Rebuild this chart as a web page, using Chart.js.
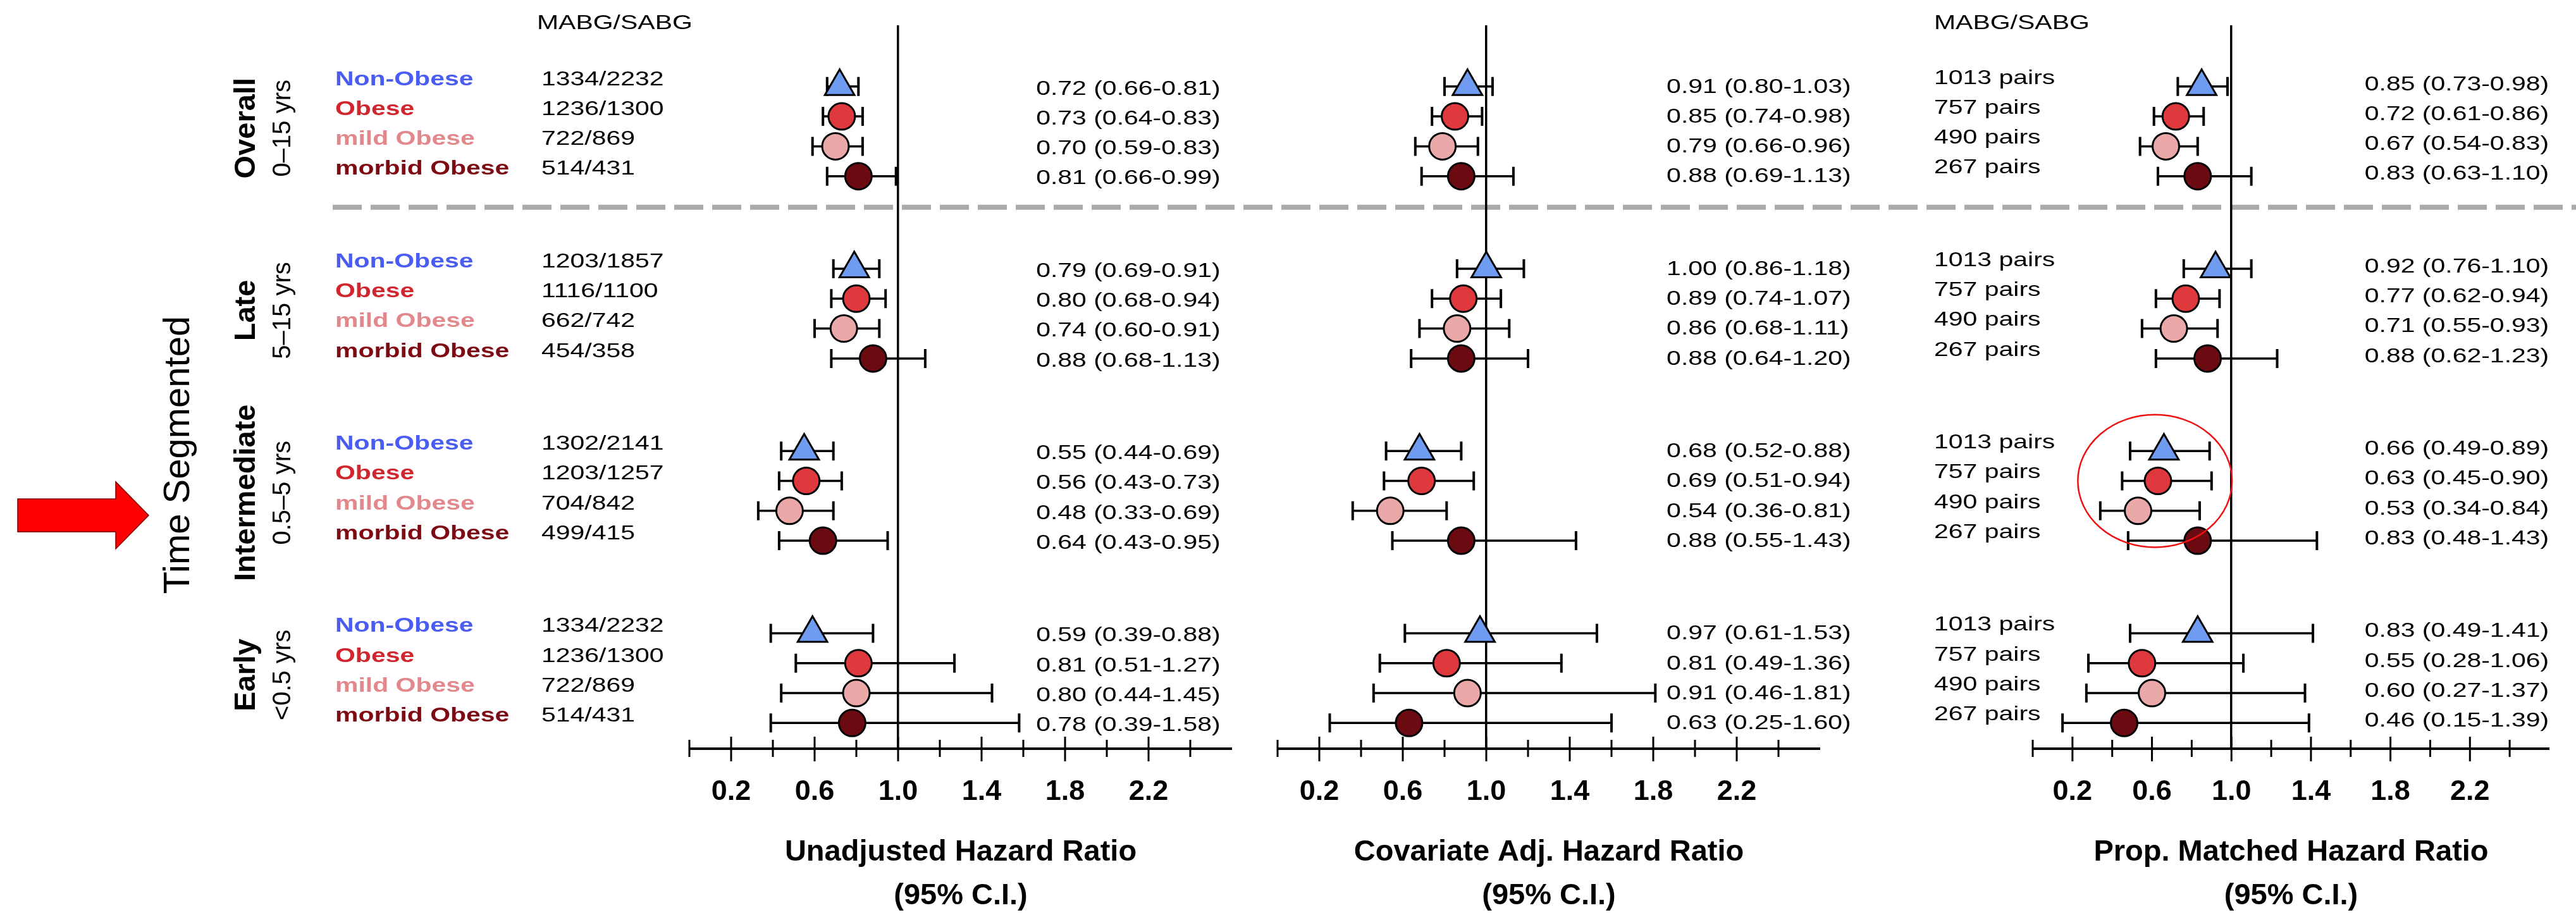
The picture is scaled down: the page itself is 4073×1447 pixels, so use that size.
<!DOCTYPE html>
<html><head><meta charset="utf-8">
<script src="https://cdn.jsdelivr.net/npm/chart.js@4.4.1/dist/chart.umd.min.js"></script>
<style>
html,body{margin:0;padding:0;background:#fff;overflow:hidden;width:4073px;height:1447px;}
#wrap{position:relative;width:4073px;height:1447px;overflow:hidden;background:#fff;}
canvas{position:absolute;left:0;top:0;}
</style></head><body><div id="wrap">
<canvas id="c1" width="4073" height="1452"></canvas>
<canvas id="c2" width="4073" height="1452"></canvas>
<canvas id="c3" width="4073" height="1452"></canvas>
</div>
<script>
// ---------------- DATA ----------------
const GROUPS = ['Overall', 'Late', 'Intermediate', 'Early'];
const GROUP_SPANS = ['0–15 yrs', '5–15 yrs', '0.5–5 yrs', '<0.5 yrs'];
const CATEGORIES = ['Non-Obese', 'Obese', 'mild Obese', 'morbid Obese'];
const COUNT_HEADER = 'MABG/SABG';
const COUNTS = [
  ['1334/2232', '1236/1300', '722/869', '514/431'],
  ['1203/1857', '1116/1100', '662/742', '454/358'],
  ['1302/2141', '1203/1257', '704/842', '499/415'],
  ['1334/2232', '1236/1300', '722/869', '514/431']
];
const PAIRS = ['1013 pairs', '757 pairs', '490 pairs', '267 pairs'];
const SIDE_TITLE = 'Time Segmented';
const TICK_LABELS = ['0.2', '0.6', '1.0', '1.4', '1.8', '2.2'];

const UNADJ_HR = [[0.72, 0.73, 0.70, 0.81], [0.79, 0.80, 0.74, 0.88], [0.55, 0.56, 0.48, 0.64], [0.59, 0.81, 0.80, 0.78]];
const UNADJ_LO = [[0.66, 0.64, 0.59, 0.66], [0.69, 0.68, 0.60, 0.68], [0.44, 0.43, 0.33, 0.43], [0.39, 0.51, 0.44, 0.39]];
const UNADJ_HI = [[0.81, 0.83, 0.83, 0.99], [0.91, 0.94, 0.91, 1.13], [0.69, 0.73, 0.69, 0.95], [0.88, 1.27, 1.45, 1.58]];

const COV_HR = [[0.91, 0.85, 0.79, 0.88], [1.00, 0.89, 0.86, 0.88], [0.68, 0.69, 0.54, 0.88], [0.97, 0.81, 0.91, 0.63]];
const COV_LO = [[0.80, 0.74, 0.66, 0.69], [0.86, 0.74, 0.68, 0.64], [0.52, 0.51, 0.36, 0.55], [0.61, 0.49, 0.46, 0.25]];
const COV_HI = [[1.03, 0.98, 0.96, 1.13], [1.18, 1.07, 1.11, 1.20], [0.88, 0.94, 0.81, 1.43], [1.53, 1.36, 1.81, 1.60]];

const PM_HR = [[0.85, 0.72, 0.67, 0.83], [0.92, 0.77, 0.71, 0.88], [0.66, 0.63, 0.53, 0.83], [0.83, 0.55, 0.60, 0.46]];
const PM_LO = [[0.73, 0.61, 0.54, 0.63], [0.76, 0.62, 0.55, 0.62], [0.49, 0.45, 0.34, 0.48], [0.49, 0.28, 0.27, 0.15]];
const PM_HI = [[0.98, 0.86, 0.83, 1.10], [1.10, 0.94, 0.93, 1.23], [0.89, 0.90, 0.84, 1.43], [1.41, 1.06, 1.37, 1.39]];

const TITLES = ['Unadjusted Hazard Ratio', 'Covariate Adj. Hazard Ratio', 'Prop. Matched Hazard Ratio'];
const CI_LABEL = '(95% C.I.)';

// ---------------- STYLE ----------------
const W = 4073;
const FONT = '"Liberation Sans", Arial, Helvetica, sans-serif';
const SX = 1.28;
const TXT_SIZE = 32;
const FILL = ['#6f9bf0', '#e0393d', '#eaa8a9', '#6b0a10'];
const TEXTC = ['#4a5cf2', '#d2262e', '#e2878b', '#7e0a14'];
const GROUP_STEP = 6.1;
const rowVal = (gi, ci) => gi * GROUP_STEP + ci;

function txt(ctx, s, x, y, o) {
  o = o || {};
  ctx.save();
  ctx.font = (o.weight || 'normal') + ' ' + (o.size || TXT_SIZE) + 'px ' + FONT;
  ctx.fillStyle = o.color || '#000';
  ctx.textBaseline = 'middle';
  ctx.textAlign = o.align || 'left';
  ctx.translate(x, y);
  ctx.scale(o.sx === undefined ? SX : o.sx, 1);
  ctx.fillText(s, 0, 0);
  ctx.restore();
}
function vtxt(ctx, s, x, y, size, weight) {
  ctx.save();
  ctx.font = weight + ' ' + size + 'px ' + FONT;
  ctx.fillStyle = '#000';
  ctx.textBaseline = 'middle';
  ctx.textAlign = 'center';
  ctx.translate(x, y);
  ctx.rotate(-Math.PI / 2);
  ctx.fillText(s, 0, 0);
  ctx.restore();
}
const isMajor = v => TICK_LABELS.indexOf((Math.round(v * 10) / 10).toFixed(1)) >= 0;

function panelPlugin(p) {
  return {
    id: 'forest' + p.id,
    beforeDatasetsDraw(chart) {
      const { ctx, scales: { x, y } } = chart;
      ctx.save();
      ctx.strokeStyle = '#000';
      for (let gi = 0; gi < GROUPS.length; gi++) {
        for (let ci = 0; ci < CATEGORIES.length; ci++) {
          const py = y.getPixelForValue(rowVal(gi, ci));
          const xl = x.getPixelForValue(p.lo[gi][ci]);
          const xh = x.getPixelForValue(p.hi[gi][ci]);
          ctx.lineWidth = 3.5;
          ctx.beginPath(); ctx.moveTo(xl, py); ctx.lineTo(xh, py); ctx.stroke();
          ctx.lineWidth = 4;
          ctx.beginPath();
          ctx.moveTo(xl, py - 15); ctx.lineTo(xl, py + 15);
          ctx.moveTo(xh, py - 15); ctx.lineTo(xh, py + 15);
          ctx.stroke();
        }
      }
      ctx.restore();
    },
    afterDraw(chart) {
      const { ctx, chartArea, scales: { x, y } } = chart;
      const ay = chartArea.bottom;
      ctx.save();
      ctx.strokeStyle = '#000';
      ctx.lineWidth = 4;
      ctx.beginPath(); ctx.moveTo(x.getPixelForValue(x.min), ay); ctx.lineTo(x.getPixelForValue(x.max), ay); ctx.stroke();
      ctx.lineWidth = 3;
      x.ticks.forEach(t => {
        if (t.value > x.max - 1e-6) return;
        const px = x.getPixelForValue(t.value);
        const major = isMajor(t.value);
        ctx.beginPath();
        ctx.moveTo(px, ay - (major ? 19 : 14));
        ctx.lineTo(px, ay + (major ? 20 : 13));
        ctx.stroke();
      });
      ctx.restore();
      const ex = x.getPixelForValue(p.estX);
      for (let gi = 0; gi < GROUPS.length; gi++) {
        for (let ci = 0; ci < CATEGORIES.length; ci++) {
          const s = p.hr[gi][ci].toFixed(2) + ' (' + p.lo[gi][ci].toFixed(2) + '-' + p.hi[gi][ci].toFixed(2) + ')';
          txt(ctx, s, ex, y.getPixelForValue(rowVal(gi, ci)) + p.estDy);
        }
      }
      if (p.extra) p.extra(chart);
    }
  };
}

function leftExtras(chart) {
  const { ctx, chartArea, scales: { y } } = chart;
  ctx.save();
  ctx.strokeStyle = '#aaaaaa';
  ctx.lineWidth = 8;
  ctx.setLineDash([46, 14]);
  const sy = y.getPixelForValue(4.04);
  ctx.beginPath(); ctx.moveTo(526, sy); ctx.lineTo(W, sy); ctx.stroke();
  ctx.restore();
  txt(ctx, COUNT_HEADER, 849, chartArea.top - 3);
  for (let gi = 0; gi < GROUPS.length; gi++) {
    for (let ci = 0; ci < CATEGORIES.length; ci++) {
      const py = y.getPixelForValue(rowVal(gi, ci)) - 11;
      txt(ctx, CATEGORIES[ci], 530, py, { weight: 'bold', color: TEXTC[ci] });
      txt(ctx, COUNTS[gi][ci], 856, py);
    }
    const gy = y.getPixelForValue(rowVal(gi, 1.5)) - 5;
    vtxt(ctx, GROUPS[gi], 390, gy, 47, 'bold');
    vtxt(ctx, GROUP_SPANS[gi], 448, gy, 40, 'normal');
  }
  vtxt(ctx, SIDE_TITLE, 283, y.getPixelForValue(12.33), 58, 'normal');
  const ty = y.getPixelForValue(14.35);
  ctx.save();
  ctx.fillStyle = '#ff0000';
  ctx.strokeStyle = '#7a0000';
  ctx.lineWidth = 1.5;
  ctx.beginPath();
  ctx.moveTo(28, ty - 26); ctx.lineTo(183, ty - 26); ctx.lineTo(183, ty - 53);
  ctx.lineTo(235, ty); ctx.lineTo(183, ty + 53); ctx.lineTo(183, ty + 26); ctx.lineTo(28, ty + 26);
  ctx.closePath(); ctx.fill(); ctx.stroke();
  ctx.restore();
}

function rightExtras(chart) {
  const { ctx, chartArea, scales: { x, y } } = chart;
  txt(ctx, COUNT_HEADER, 3058, chartArea.top - 3);
  for (let gi = 0; gi < GROUPS.length; gi++) {
    for (let ci = 0; ci < CATEGORIES.length; ci++) {
      txt(ctx, PAIRS[ci], 3058, y.getPixelForValue(rowVal(gi, ci)) - 13);
    }
  }
  const cx = x.getPixelForValue(0.615), cy = y.getPixelForValue(13.2);
  const rx = x.getPixelForValue(0.615 + 0.388) - cx;
  const ry = y.getPixelForValue(13.2 + 2.22) - cy;
  ctx.save();
  ctx.strokeStyle = '#ee1111';
  ctx.lineWidth = 2.5;
  ctx.beginPath(); ctx.ellipse(cx, cy, Math.abs(rx), Math.abs(ry), 0, 0, Math.PI * 2); ctx.stroke();
  ctx.restore();
}

const PANELS = [
  { id: 1, canvas: 'c1', left: 1090, hr: UNADJ_HR, lo: UNADJ_LO, hi: UNADJ_HI, title: TITLES[0], estX: 1.661, estDy: 4, extra: leftExtras },
  { id: 2, canvas: 'c2', left: 2020, hr: COV_HR, lo: COV_LO, hi: COV_HI, title: TITLES[1], estX: 1.864, estDy: 1 },
  { id: 3, canvas: 'c3', left: 3214, hr: PM_HR, lo: PM_LO, hi: PM_HI, title: TITLES[2], estX: 1.67, estDy: -3, extra: rightExtras }
];
const PX_PER_UNIT = 330;
const X_MAX = 2.6;

PANELS.forEach(p => {
  const right = p.left + X_MAX * PX_PER_UNIT;
  new Chart(document.getElementById(p.canvas), {
    type: 'scatter',
    data: {
      datasets: CATEGORIES.map((c, ci) => ({
        label: c,
        data: GROUPS.map((g, gi) => ({ x: p.hr[gi][ci], y: rowVal(gi, ci) })),
        pointStyle: ci === 0 ? 'triangle' : 'circle',
        pointRadius: ci === 0 ? 27 : 21,
        pointHoverRadius: ci === 0 ? 27 : 21,
        backgroundColor: FILL[ci],
        borderColor: '#000',
        borderWidth: 3,
        pointBorderWidth: 3
      }))
    },
    options: {
      responsive: false,
      animation: false,
      devicePixelRatio: 1,
      events: [],
      layout: { padding: { left: p.left, right: W - right, top: 40, bottom: 0 } },
      plugins: { legend: { display: false }, tooltip: { enabled: false } },
      scales: {
        x: {
          type: 'linear', min: 0, max: X_MAX,
          border: { display: false },
          grid: {
            drawTicks: false,
            lineWidth: 3.5,
            color: c => (c.tick && Math.abs(c.tick.value - 1) < 1e-6) ? '#000' : 'rgba(0,0,0,0)'
          },
          ticks: {
            stepSize: 0.2, autoSkip: false, maxRotation: 0, minRotation: 0,
            padding: 42, color: '#000',
            font: { family: FONT, size: 45, weight: 'bold' },
            callback: v => isMajor(v) ? (Math.round(v * 10) / 10).toFixed(1) : ''
          },
          title: {
            display: true, text: [p.title, CI_LABEL], color: '#000',
            font: { family: FONT, size: 47, weight: 'bold', lineHeight: 1.468 },
            padding: { top: -8, bottom: 0 }
          }
        },
        y: { type: 'linear', display: false, min: -2.05, max: 22.16, reverse: true }
      }
    },
    plugins: [panelPlugin(p)]
  });
});
</script></body></html>
